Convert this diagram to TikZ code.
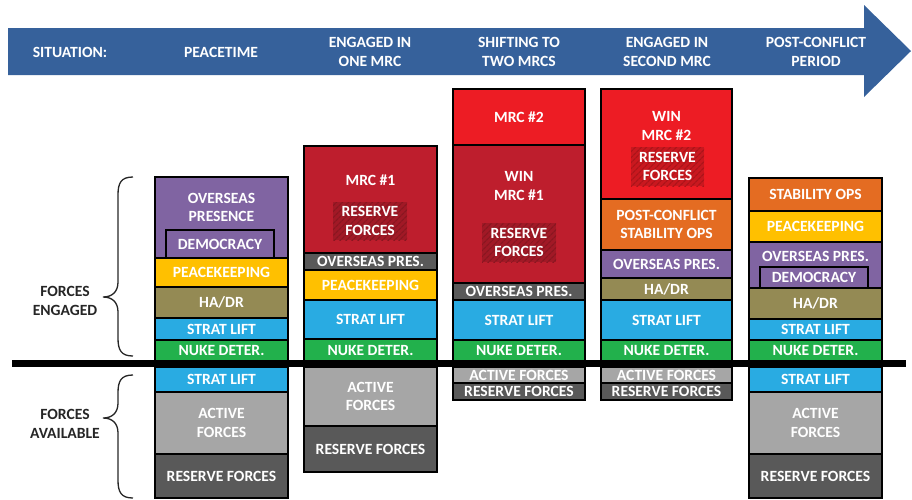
\documentclass[tikz,border=0pt]{standalone}
\usepackage{fontspec}
\setmainfont{Carlito}
\usetikzlibrary{patterns.meta}
\definecolor{arrowblue}{HTML}{36619B}
\definecolor{cpurple}{HTML}{8064A2}
\definecolor{cgold}{HTML}{FFC000}
\definecolor{colive}{HTML}{948A54}
\definecolor{clift}{HTML}{29ABE2}
\definecolor{cgreen}{HTML}{22B14C}
\definecolor{clgrey}{HTML}{A6A6A6}
\definecolor{cdgrey}{HTML}{595959}
\definecolor{cdred}{HTML}{BE1E2D}
\definecolor{cbred}{HTML}{ED1C24}
\definecolor{corange}{HTML}{E46C22}
\definecolor{labgrey}{HTML}{262626}
\newcommand\BX[7]{\node[blk, fill=#6, minimum width={#4pt-#2pt}, minimum height={#5pt-#3pt}] (#1) at ({(#2+#4)/2},{(#3+#5)/2}) {#7};}
\newcommand\INS[7]{\node[insetbox, preaction={fill=#6!85!black}, pattern={Lines[angle=45,distance=4pt,line width=1.3pt]}, pattern color=#6!72!black, minimum width={#4pt-#2pt}, minimum height={#5pt-#3pt}] (#1) at ({(#2+#4)/2},{(#3+#5)/2}) {#7};}
\tikzset{
  bigfont/.style={font=\bfseries\fontsize{15.6}{18.5}\selectfont},
  blk/.style={draw=black, line width=1.4pt, inner sep=0pt, outer sep=0pt, text=white, bigfont, align=center},
  insetbox/.style={inner sep=0pt, outer sep=0pt, text=white, bigfont, align=center},
  wtxt/.style={text=white, bigfont, align=center, inner sep=0pt},
  ltxt/.style={text=labgrey, bigfont, align=center, inner sep=0pt},
  bracepath/.style={draw=labgrey, line width=1.3pt},
}
\begin{document}
\begin{tikzpicture}[x=1pt,y=-1pt]
\useasboundingbox (0,0) rectangle (912,499);
% header arrow
\fill[arrowblue] (8,28) -- (864,28) -- (864,5) -- (911,51) -- (864,97) -- (864,75) -- (8,75) -- cycle;
\node[wtxt] (hsit) at (70,52) {SITUATION:};
\node[wtxt] (hpeace) at (221,52) {PEACETIME};
\node[wtxt] (hone) at (370,52) {ENGAGED IN\\ONE MRC};
\node[wtxt] (hshift) at (519,52) {SHIFTING TO\\TWO MRCS};
\node[wtxt] (hsecond) at (667,52) {ENGAGED IN\\SECOND MRC};
\node[wtxt] (hpost) at (816,52) {POST-CONFLICT\\PERIOD};
% column 1
\BX{c1op}{155}{177}{288}{258}{cpurple}{}
\node[wtxt] (c1optxt) at (221.5,207.5) {OVERSEAS\\PRESENCE};
\BX{c1dem}{166}{230}{274}{258}{cpurple}{DEMOCRACY}
\BX{c1pk}{155}{258}{288}{287}{cgold}{PEACEKEEPING}
\BX{c1ha}{155}{287}{288}{318}{colive}{HA/DR}
\BX{c1sl}{155}{318}{288}{340}{clift}{STRAT LIFT}
\BX{c1nd}{155}{340}{288}{361}{cgreen}{NUKE DETER.}
\BX{c1sl2}{155}{367}{288}{392}{clift}{STRAT LIFT}
\BX{c1ac}{155}{392}{288}{454}{clgrey}{ACTIVE\\FORCES}
\BX{c1rf}{155}{454}{288}{498}{cdgrey}{RESERVE FORCES}
% column 2
\BX{c2mrc}{304}{146}{437}{253}{cdred}{}
\node[wtxt] (c2mrctxt) at (370.5,180) {MRC \#1};
\INS{c2ins}{333}{202}{407}{240}{cdred}{RESERVE\\FORCES}
\BX{c2op}{304}{253}{437}{270}{cdgrey}{OVERSEAS PRES.}
\BX{c2pk}{304}{270}{437}{300}{cgold}{PEACEKEEPING}
\BX{c2sl}{304}{300}{437}{339}{clift}{STRAT LIFT}
\BX{c2nd}{304}{339}{437}{361}{cgreen}{NUKE DETER.}
\BX{c2ac}{304}{367}{437}{426}{clgrey}{ACTIVE\\FORCES}
\BX{c2rf}{304}{426}{437}{472}{cdgrey}{RESERVE FORCES}
% column 3
\BX{c3m2}{453}{89}{585}{145}{cbred}{MRC \#2}
\BX{c3m1}{453}{145}{585}{283}{cdred}{}
\node[wtxt] (c3m1txt) at (519,186) {WIN\\MRC \#1};
\INS{c3ins}{482}{223}{556}{262}{cdred}{RESERVE\\FORCES}
\BX{c3op}{453}{283}{585}{300}{cdgrey}{OVERSEAS PRES.}
\BX{c3sl}{453}{300}{585}{340}{clift}{STRAT LIFT}
\BX{c3nd}{453}{340}{585}{361}{cgreen}{NUKE DETER.}
\BX{c3ac}{453}{367}{585}{383}{clgrey}{ACTIVE FORCES}
\BX{c3rf}{453}{383}{585}{400}{cdgrey}{RESERVE FORCES}
% column 4
\BX{c4m2}{601}{89}{732}{199}{cbred}{}
\node[wtxt] (c4m2txt) at (666.5,126) {WIN\\MRC \#2};
\INS{c4ins}{631}{147}{704}{186}{cbred}{RESERVE\\FORCES}
\BX{c4so}{601}{199}{732}{250}{corange}{POST-CONFLICT\\STABILITY OPS}
\BX{c4op}{601}{250}{732}{278}{cpurple}{OVERSEAS PRES.}
\BX{c4ha}{601}{278}{732}{300}{colive}{HA/DR}
\BX{c4sl}{601}{300}{732}{340}{clift}{STRAT LIFT}
\BX{c4nd}{601}{340}{732}{361}{cgreen}{NUKE DETER.}
\BX{c4ac}{601}{367}{732}{383}{clgrey}{ACTIVE FORCES}
\BX{c4rf}{601}{383}{732}{400}{cdgrey}{RESERVE FORCES}
% column 5
\BX{c5so}{749}{178}{882}{211}{corange}{STABILITY OPS}
\BX{c5pk}{749}{211}{882}{242}{cgold}{PEACEKEEPING}
\BX{c5op}{749}{242}{882}{288}{cpurple}{}
\node[wtxt] (c5optxt) at (815.5,256) {OVERSEAS PRES.};
\BX{c5dem}{760}{267}{868}{288}{cpurple}{DEMOCRACY}
\BX{c5ha}{749}{288}{882}{319}{colive}{HA/DR}
\BX{c5sl}{749}{319}{882}{340}{clift}{STRAT LIFT}
\BX{c5nd}{749}{340}{882}{361}{cgreen}{NUKE DETER.}
\BX{c5sl2}{749}{367}{882}{392}{clift}{STRAT LIFT}
\BX{c5ac}{749}{392}{882}{454}{clgrey}{ACTIVE\\FORCES}
\BX{c5rf}{749}{454}{882}{498}{cdgrey}{RESERVE FORCES}
% divider bar
\fill[black] (12,360) rectangle (906,367);
% braces
\draw[bracepath] (133,177) .. controls (121,177) and (118,183) .. (118,195) -- (118,282)
  .. controls (118,292) and (112,297) .. (103,297)
  .. controls (112,297) and (118,302) .. (118,312) -- (118,338)
  .. controls (118,350) and (121,356) .. (133,356);
\draw[bracepath] (133,375) .. controls (121,375) and (118,381) .. (118,393) -- (118,403)
  .. controls (118,413) and (112,418) .. (103,418)
  .. controls (112,418) and (118,423) .. (118,433) -- (118,480)
  .. controls (118,492) and (121,498) .. (133,498);
\node[ltxt] (leng) at (65,301) {FORCES\\ENGAGED};
\node[ltxt] (lavail) at (65,424) {FORCES\\AVAILABLE};
\end{tikzpicture}
\end{document}
